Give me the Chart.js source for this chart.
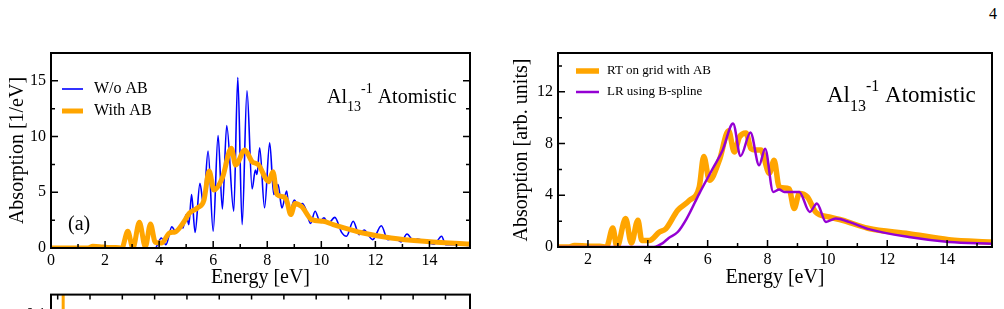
<!DOCTYPE html>
<html>
<head>
<meta charset="utf-8">
<script src="https://cdn.jsdelivr.net/npm/chart.js@4.4.1/dist/chart.umd.min.js"></script>
<style>
  html, body { margin: 0; padding: 0; background: #fff; overflow: hidden; width: 1004px; height: 309px; }
  canvas { position: absolute; }
  #pageNum { position: absolute; left: 989px; top: 5px; font: 16px 'Liberation Serif', 'DejaVu Serif', serif; }
</style>
</head>
<body>
<div id="pageNum">4</div>
<canvas id="leftChart" width="480" height="300" style="left:0;top:0"></canvas>
<canvas id="rightChart" width="514" height="300" style="left:490px;top:0"></canvas>
<canvas id="lowerChart" width="480" height="170" style="left:0;top:280px"></canvas>
<script>
// Panel (a): absorption without absorbing boundary (blue)
const woAbEnergy = [0, 3.85, 4.08, 4.25, 4.47, 4.62, 4.78, 4.88, 5.0, 5.1, 5.2, 5.33, 5.51, 5.64, 5.81, 6.0,
  6.18, 6.34, 6.5, 6.76, 6.91, 7.07, 7.25, 7.44, 7.56, 7.62, 7.72, 7.9, 8.09, 8.24, 8.4, 8.54, 8.72, 8.82,
  9.0, 9.15, 9.3, 9.42, 9.6, 9.77, 9.95, 10.1, 10.25, 10.5, 10.75, 10.93, 11.18, 11.4, 11.58, 11.9, 12.22,
  12.46, 12.7, 12.95, 13.17, 13.4, 13.55, 14.18, 14.45, 14.6, 15.0, 15.5];
const woAbValues = [0, 0, 0.9, 0.3, 1.9, 1.45, 2.0, 1.8, 3.0, 2.1, 4.8, 1.4, 5.8, 3.9, 8.7, 1.5,
  10.1, 3.5, 11.0, 3.3, 15.3, 2.1, 14.1, 5.3, 7.0, 6.6, 9.0, 3.6, 9.45, 4.8, 5.7, 3.6, 5.1, 3.1,
  4.3, 3.8, 4.0, 3.5, 2.2, 3.3, 2.4, 2.7, 2.2, 2.75, 1.4, 1.05, 2.4, 1.2, 1.6, 0.75, 2.0,
  0.75, 0.95, 0.55, 1.25, 0.7, 0.8, 0.35, 1.05, 0.3, 0.3, 0.2];

// Panel (a): absorption with absorbing boundary (orange)
const withAbEnergy = [0, 1.35, 1.55, 1.8, 2.1, 2.4, 2.62, 2.84, 3.03, 3.27, 3.49, 3.68, 3.86, 4.1, 4.38, 4.6,
  4.93, 5.11, 5.42, 5.66, 5.85, 6.03, 6.34, 6.67, 6.83, 7.17, 7.44, 7.68, 7.95, 8.05, 8.21, 8.36, 8.6, 8.72,
  8.87, 9.03, 9.28, 9.64, 10.07, 10.44, 11.0, 11.54, 12.58, 13.8, 15.5];
const withAbValues = [0, 0, 0.15, 0.12, 0.05, 0.05, 0, 1.5, 0, 2.3, 0.1, 2.15, 0.5, 0.45, 1.35, 1.45,
  2.4, 3.1, 3.6, 4.3, 6.9, 5.2, 6.3, 8.95, 7.45, 8.8, 7.75, 7.45, 6.2, 5.95, 6.85, 4.8, 4.6, 4.25,
  3.0, 4.0, 3.7, 2.55, 2.4, 2.1, 1.7, 1.35, 0.9, 0.6, 0.35];

// Panel (b): real time on grid with AB (orange)
const rtEnergy = [1, 1.35, 1.55, 1.8, 2.1, 2.4, 2.62, 2.83, 2.97, 3.26, 3.45, 3.67, 3.8, 4.05, 4.39, 4.6,
  5.0, 5.39, 5.72, 5.87, 6.06, 6.39, 6.7, 6.89, 7.06, 7.28, 7.45, 7.6, 7.78, 8.06, 8.22, 8.39, 8.72, 8.89,
  9.06, 9.33, 9.61, 10.06, 10.5, 11.35, 12.72, 14.06, 15.5];
const rtValues = [0, 0, 0.12, 0.1, 0.05, 0.05, 0, 1.47, 0, 2.2, 0.3, 2.07, 0.5, 0.5, 1.16, 1.4,
  2.84, 3.6, 4.65, 7.0, 5.16, 6.7, 8.98, 7.35, 8.5, 8.82, 7.6, 7.5, 7.5, 5.7, 6.7, 4.64, 4.5, 2.97,
  4.13, 3.87, 2.7, 2.32, 2.07, 1.45, 1.03, 0.57, 0.38];

// Panel (b): linear response with B-spline (purple)
const lrEnergy = [1, 4.2, 4.5, 4.7, 5.0, 5.3, 5.72, 6.17, 6.5, 6.85, 7.1, 7.43, 7.72, 7.92, 8.19, 8.39,
  8.56, 9.06, 9.41, 9.65, 9.95, 10.28, 10.72, 11.35, 12.72, 14.06, 15.5];
const lrValues = [0, 0, 0.3, 0.7, 1.16, 2.2, 4.13, 6.07, 7.48, 9.55, 7.04, 8.85, 6.32, 7.6, 4.26, 4.44,
  4.26, 4.26, 2.71, 3.36, 1.94, 2.2, 1.94, 1.4, 0.77, 0.39, 0.26];

// Lower panel (cut off by the page edge)
const lowerTime = [0.17, 0.17];
const lowerValues = [0, 1];

// Tick labels
const leftXLabels = [0, 2, 4, 6, 8, 10, 12, 14];
const leftYLabels = [0, 5, 10, 15];
const rightXLabels = [2, 4, 6, 8, 10, 12, 14];
const rightYLabels = [0, 4, 8, 12];
const lowerYLabels = [0.1];

const SERIF = "'Liberation Serif', 'DejaVu Serif', serif";
Chart.defaults.font.family = SERIF;
Chart.defaults.color = '#000';

function toPoints(xs, ys) {
  return xs.map((x, i) => ({ x: x, y: ys[i] }));
}

// Show a label only for the values in the list, other ticks stay as minor ticks
function labelIf(list) {
  return v => (list.some(l => Math.abs(l - v) < 1e-6) ? String(v) : '');
}

// Box around the plot with inward ticks
const frameTicks = {
  id: 'frameTicks',
  afterDatasetsDraw(chart, args, opts) {
    const { ctx, chartArea: a } = chart;
    const xs = chart.scales.x, ys = chart.scales.y;
    const sides = opts.sides || [];
    ctx.save();
    ctx.strokeStyle = '#000';
    ctx.lineWidth = 1.5;
    ctx.beginPath();
    xs.ticks.forEach(t => {
      const px = xs.getPixelForValue(t.value);
      if (px < a.left + 2 || px > a.right - 2) return;
      const len = t.label ? opts.major : opts.minor;
      if (sides.includes('bottom')) { ctx.moveTo(px, a.bottom); ctx.lineTo(px, a.bottom - len); }
      if (sides.includes('top')) { ctx.moveTo(px, a.top); ctx.lineTo(px, a.top + len); }
    });
    ys.ticks.forEach(t => {
      const py = ys.getPixelForValue(t.value);
      if (py < a.top + 2 || py > a.bottom - 2) return;
      const len = t.label ? opts.major : opts.minor;
      if (sides.includes('left')) { ctx.moveTo(a.left, py); ctx.lineTo(a.left + len, py); }
      if (sides.includes('right')) { ctx.moveTo(a.right, py); ctx.lineTo(a.right - len, py); }
    });
    ctx.stroke();
    ctx.lineWidth = 2;
    ctx.strokeRect(a.left, a.top, a.right - a.left, a.bottom - a.top);
    ctx.restore();
  }
};

// Legend, Al13^-1 title and panel letter drawn inside the plot
const notes = {
  id: 'notes',
  afterDraw(chart, args, opts) {
    const ctx = chart.ctx;
    ctx.save();
    ctx.fillStyle = '#000';
    ctx.textBaseline = 'middle';
    (opts.legend || []).forEach(item => {
      const ds = chart.data.datasets[item.dataset];
      ctx.strokeStyle = ds.borderColor;
      ctx.lineWidth = item.lineWidth;
      ctx.beginPath();
      ctx.moveTo(item.x, item.y);
      ctx.lineTo(item.x + item.len, item.y);
      ctx.stroke();
      ctx.font = item.size + 'px ' + SERIF;
      ctx.fillText(ds.label, item.x + item.len + item.gap, item.y);
    });
    if (opts.title) {
      const t = opts.title;
      const small = Math.round(t.size * 0.7);
      let x = t.x;
      ctx.textBaseline = 'alphabetic';
      ctx.font = t.size + 'px ' + SERIF;
      ctx.fillText('Al', x, t.y);
      x += ctx.measureText('Al').width;
      ctx.font = small + 'px ' + SERIF;
      ctx.fillText('13', x, t.y + t.size * 0.4);
      x += ctx.measureText('13').width;
      ctx.fillText('-1', x, t.y - t.size * 0.5);
      x += ctx.measureText('-1').width;
      ctx.font = t.size + 'px ' + SERIF;
      ctx.fillText(' Atomistic', x, t.y);
    }
    if (opts.tag) {
      ctx.textBaseline = 'middle';
      ctx.font = opts.tag.size + 'px ' + SERIF;
      ctx.fillText(opts.tag.text, opts.tag.x, opts.tag.y);
    }
    ctx.restore();
  }
};

// order: lower number is painted on top
function lineSet(label, xs, ys, color, width, order) {
  return {
    label: label,
    data: toPoints(xs, ys),
    borderColor: color,
    borderWidth: width,
    order: order,
    pointRadius: 0,
    cubicInterpolationMode: 'monotone',
    fill: false
  };
}

function axisX(min, max, labels, titleText, height) {
  return {
    type: 'linear', min: min, max: max,
    grid: { display: false, drawTicks: false },
    border: { display: false },
    ticks: { stepSize: 1, autoSkip: false, maxRotation: 0, includeBounds: false,
             padding: 3, font: { size: 16 }, callback: labelIf(labels) },
    title: { display: !!titleText, text: titleText, font: { size: 20 }, padding: { top: 0, bottom: 10 } },
    afterFit: s => { s.height = height; }
  };
}

function axisY(min, max, step, labels, titleText, width, titlePad) {
  return {
    type: 'linear', min: min, max: max,
    grid: { display: false, drawTicks: false },
    border: { display: false },
    ticks: { stepSize: step, autoSkip: false, includeBounds: false,
             padding: 5, font: { size: 16 }, callback: labelIf(labels) },
    title: { display: !!titleText, text: titleText, font: { size: 20 }, padding: { top: titlePad, bottom: 0 } },
    afterFit: s => { s.width = width; }
  };
}

new Chart(document.getElementById('leftChart'), {
  type: 'line',
  data: {
    datasets: [
      lineSet('W/o AB', woAbEnergy, woAbValues, '#0000ff', 1.6, 2),
      lineSet('With AB', withAbEnergy, withAbValues, '#ffa500', 5, 1)
    ]
  },
  options: {
    responsive: false,
    animation: false,
    layout: { padding: { top: 53, right: 10, bottom: 0, left: 0 } },
    scales: {
      x: axisX(0, 15.5, leftXLabels, 'Energy [eV]', 52),
      y: axisY(0, 17.5, 2.5, leftYLabels, 'Absorption [1/eV]', 51, 6)
    },
    plugins: {
      legend: { display: false },
      tooltip: { enabled: false },
      frameTicks: { sides: ['bottom', 'left', 'right'], major: 7, minor: 4 },
      notes: {
        legend: [
          { dataset: 0, x: 62, y: 89, len: 21, gap: 11, size: 16, lineWidth: 1.6 },
          { dataset: 1, x: 62, y: 111, len: 21, gap: 11, size: 16, lineWidth: 5 }
        ],
        title: { x: 327, y: 103, size: 20 },
        tag: { text: '(a)', x: 68, y: 225, size: 20 }
      }
    }
  },
  plugins: [frameTicks, notes]
});

new Chart(document.getElementById('rightChart'), {
  type: 'line',
  data: {
    datasets: [
      lineSet('RT on grid with AB', rtEnergy, rtValues, '#ffa500', 5.5, 2),
      lineSet('LR using B-spline', lrEnergy, lrValues, '#9400d3', 2.5, 1)
    ]
  },
  options: {
    responsive: false,
    animation: false,
    layout: { padding: { top: 53, right: 12, bottom: 0, left: 0 } },
    scales: {
      x: axisX(1, 15.5, rightXLabels, 'Energy [eV]', 53),
      y: axisY(0, 15, 2, rightYLabels, 'Absorption [arb. units]', 68, 20)
    },
    plugins: {
      legend: { display: false },
      tooltip: { enabled: false },
      frameTicks: { sides: ['bottom', 'left'], major: 7, minor: 4 },
      notes: {
        legend: [
          { dataset: 0, x: 86, y: 71, len: 23, gap: 8, size: 13, lineWidth: 5.5 },
          { dataset: 1, x: 86, y: 92, len: 23, gap: 8, size: 13, lineWidth: 2.5 }
        ],
        title: { x: 337, y: 102, size: 23 }
      }
    }
  },
  plugins: [frameTicks, notes]
});

new Chart(document.getElementById('lowerChart'), {
  type: 'line',
  data: {
    datasets: [lineSet('lower', lowerTime, lowerValues, '#ffa500', 3, 1)]
  },
  options: {
    responsive: false,
    animation: false,
    layout: { padding: { top: 12, right: 10, bottom: 0, left: 0 } },
    scales: {
      x: axisX(-0.207, 12.76, [], '', 36),
      y: axisY(0, 0.12, 0.1, lowerYLabels, '', 51, 0)
    },
    plugins: {
      legend: { display: false },
      tooltip: { enabled: false },
      frameTicks: { sides: ['top', 'left'], major: 5, minor: 5 }
    }
  },
  plugins: [frameTicks]
});
</script>
</body>
</html>
